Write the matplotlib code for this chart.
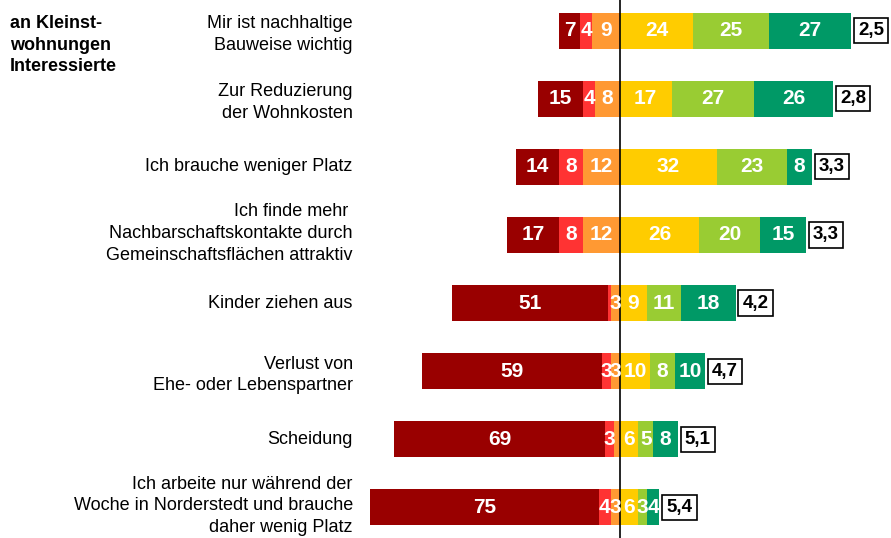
import numpy as np
import matplotlib
matplotlib.use('Agg')
from matplotlib import pyplot as plt
from matplotlib.transforms import blended_transform_factory, offset_copy

plt.rcParams['font.family'] = ['Liberation Sans', 'DejaVu Sans']

categories = [
    "Mir ist nachhaltige\nBauweise wichtig",
    "Zur Reduzierung\nder Wohnkosten",
    "Ich brauche weniger Platz",
    "Ich finde mehr \nNachbarschaftskontakte durch\nGemeinschaftsflächen attraktiv",
    "Kinder ziehen aus",
    "Verlust von\nEhe- oder Lebenspartner",
    "Scheidung",
    "Ich arbeite nur während der\nWoche in Norderstedt und brauche\ndaher wenig Platz",
]

# negative side (from outside to centre) and positive side (from centre outward)
dark_red = [7, 15, 14, 17, 51, 59, 69, 75]
red = [4, 4, 8, 8, 1, 3, 3, 4]
orange = [9, 8, 12, 12, 3, 3, 2, 3]
yellow = [24, 17, 32, 26, 9, 10, 6, 6]
light_green = [25, 27, 23, 20, 11, 8, 5, 3]
dark_green = [27, 26, 8, 15, 18, 10, 8, 4]
means = ["2,5", "2,8", "3,3", "3,3", "4,2", "4,7", "5,1", "5,4"]

colors = ["#990000", "#FF3333", "#FF9933", "#FFCC00", "#99CC33", "#009966"]

fig = plt.figure(figsize=(8.91, 5.38), dpi=100)
ax = fig.add_axes([0.405, 0.0, 0.595, 1.0])

y = np.arange(len(categories))
h = 0.53

neg = [orange, red, dark_red]
neg_colors = [colors[2], colors[1], colors[0]]
pos = [yellow, light_green, dark_green]
pos_colors = [colors[3], colors[4], colors[5]]

def draw_side(series, cols, sign):
    start = np.zeros(len(y))
    for vals, c in zip(series, cols):
        vals = np.array(vals, dtype=float)
        left = start if sign > 0 else -(start + vals)
        ax.barh(y, vals, left=left, height=h, color=c, edgecolor='none')
        for yi, l, v in zip(y, left, vals):
            if v >= 3:
                ax.text(l + v / 2, yi, f"{int(v)}", ha='center', va='center',
                        color='white', fontsize=15, fontweight='bold')
        start = start + vals
    return start

draw_side(neg, neg_colors, -1)
ends = draw_side(pos, pos_colors, 1)

for yi, e, m in zip(y, ends, means):
    ax.annotate(m, xy=(e, yi), xytext=(5, 0), textcoords='offset points',
                ha='left', va='center', fontsize=13.5, fontweight='bold',
                bbox=dict(boxstyle='square,pad=0.22', facecolor='white',
                          edgecolor='black', linewidth=1.2))

ax.axvline(0, color='black', linewidth=1.2)

ax.set_xlim(-85, 89)
ax.set_ylim(7.45, -0.45)

# category labels, right aligned left of the plot area
trans = blended_transform_factory(ax.transAxes, ax.transData)
shift = {0: 0, 1: -4, 2: 1.5}  # vertical nudge (px) by number of line breaks
for yi, cat in zip(y, categories):
    t = offset_copy(trans, fig=fig, x=-8, y=shift[cat.count("\n")], units='dots')
    ax.text(0, yi, cat, transform=t, ha='right', va='center',
            fontsize=13, linespacing=1.36)

ax.set_xticks([])
ax.set_yticks([])
for s in ax.spines.values():
    s.set_visible(False)

fig.text(0.011, 0.972, "an Kleinst-\nwohnungen\nInteressierte", ha='left', va='top',
         fontsize=13, fontweight='bold', linespacing=1.36)

fig.savefig('out.png', dpi=100)
